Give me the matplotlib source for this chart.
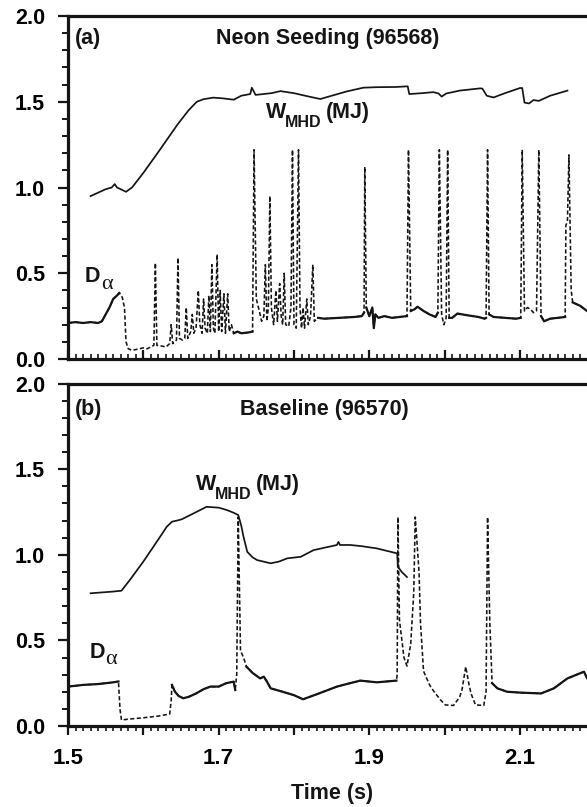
import matplotlib
matplotlib.use("Agg")
import matplotlib.pyplot as plt
from matplotlib.ticker import MultipleLocator, FixedLocator, FixedFormatter
import numpy as np

W, H = 587, 807
plt.rcParams['font.family'] = ['Liberation Sans', 'DejaVu Sans']
plt.rcParams['font.weight'] = 'bold'

# ---------------- data: panel (a) Neon seeding 96568 ----------------
wa_t = [1.530, 1.540, 1.550, 1.558, 1.562, 1.565, 1.570, 1.577, 1.585, 1.600, 1.622, 1.645,
        1.660, 1.671, 1.680, 1.693, 1.705, 1.720, 1.730, 1.742, 1.744, 1.749, 1.770, 1.782,
        1.800, 1.820, 1.835, 1.850, 1.870, 1.892, 1.910, 1.935, 1.951, 1.953, 1.970, 1.985,
        1.992, 1.996, 2.002, 2.020, 2.047, 2.050, 2.056, 2.065, 2.080, 2.100, 2.103, 2.106,
        2.112, 2.118, 2.125, 2.140, 2.163]
wa_v = [0.950, 0.970, 0.990, 1.000, 1.020, 1.000, 0.990, 0.975, 1.000, 1.085, 1.220, 1.365,
        1.450, 1.500, 1.515, 1.524, 1.520, 1.512, 1.535, 1.545, 1.582, 1.540, 1.550, 1.562,
        1.550, 1.530, 1.516, 1.535, 1.560, 1.582, 1.585, 1.586, 1.590, 1.545, 1.550, 1.556,
        1.548, 1.530, 1.548, 1.565, 1.578, 1.577, 1.535, 1.525, 1.550, 1.580, 1.580, 1.495,
        1.490, 1.510, 1.505, 1.535, 1.565]

da_t = [1.500, 1.510, 1.520, 1.530, 1.540, 1.545, 1.550, 1.555, 1.560, 1.565, 1.568, 1.572,
        1.575, 1.577, 1.580, 1.585, 1.590, 1.595, 1.600, 1.605, 1.610, 1.614, 1.616, 1.618,
        1.625, 1.630, 1.635, 1.637, 1.639, 1.644, 1.646, 1.648, 1.652, 1.655, 1.657, 1.659,
        1.663, 1.665, 1.667, 1.670, 1.673, 1.675, 1.678, 1.680, 1.682, 1.685, 1.687, 1.689,
        1.691, 1.693, 1.695, 1.698, 1.700, 1.702, 1.704, 1.707, 1.709, 1.712, 1.714, 1.717,
        1.720, 1.725, 1.730, 1.740, 1.745, 1.747, 1.750, 1.754, 1.757, 1.760, 1.762, 1.764,
        1.766, 1.768, 1.770, 1.773, 1.776, 1.778, 1.781, 1.783, 1.785, 1.787, 1.789, 1.793,
        1.796, 1.798, 1.800, 1.803, 1.806, 1.808, 1.810, 1.812, 1.814, 1.817, 1.819, 1.822,
        1.825, 1.827, 1.832, 1.840, 1.860, 1.880, 1.890, 1.893, 1.894, 1.896, 1.900, 1.904,
        1.906, 1.908, 1.912, 1.920, 1.930, 1.940, 1.950, 1.952, 1.955, 1.960, 1.964, 1.972,
        1.980, 1.988, 1.991, 1.993, 1.996, 1.999, 2.002, 2.004, 2.006, 2.010, 2.017, 2.030,
        2.045, 2.053, 2.055, 2.057, 2.059, 2.065, 2.080, 2.095, 2.101, 2.103, 2.106, 2.110,
        2.114, 2.118, 2.122, 2.125, 2.128, 2.132, 2.140, 2.150, 2.160, 2.161, 2.163, 2.165,
        2.168, 2.170, 2.180, 2.189]
da_v = [0.210, 0.215, 0.210, 0.215, 0.210, 0.220, 0.260, 0.300, 0.350, 0.370, 0.385, 0.360,
        0.300, 0.100, 0.060, 0.050, 0.055, 0.060, 0.065, 0.060, 0.070, 0.080, 0.560, 0.080,
        0.075, 0.070, 0.090, 0.200, 0.090, 0.110, 0.590, 0.120, 0.110, 0.120, 0.300, 0.120,
        0.160, 0.260, 0.150, 0.180, 0.400, 0.200, 0.150, 0.350, 0.180, 0.150, 0.370, 0.160,
        0.550, 0.180, 0.150, 0.610, 0.160, 0.400, 0.160, 0.380, 0.150, 0.380, 0.160, 0.200,
        0.150, 0.160, 0.150, 0.155, 0.160, 1.220, 0.350, 0.280, 0.220, 0.250, 0.550, 0.220,
        0.300, 0.950, 0.300, 0.200, 0.400, 0.220, 0.440, 0.250, 0.200, 0.500, 0.200, 0.190,
        0.300, 1.220, 0.200, 0.180, 1.220, 0.300, 0.180, 0.300, 0.180, 0.350, 0.200, 0.250,
        0.550, 0.220, 0.240, 0.235, 0.240, 0.245, 0.250, 0.270, 1.120, 0.300, 0.250, 0.300,
        0.180, 0.260, 0.240, 0.250, 0.240, 0.245, 0.250, 1.220, 0.280, 0.290, 0.305, 0.280,
        0.260, 0.245, 0.270, 1.220, 0.260, 0.200, 0.240, 1.220, 0.240, 0.240, 0.265, 0.255,
        0.245, 0.235, 0.240, 1.220, 0.260, 0.245, 0.240, 0.235, 0.240, 1.220, 0.280, 0.300,
        0.290, 0.270, 0.280, 1.220, 0.250, 0.220, 0.235, 0.240, 0.245, 0.780, 0.800, 1.190,
        0.400, 0.330, 0.310, 0.280]

# ---------------- data: panel (b) Baseline 96570 ----------------
wb_t = [1.530, 1.545, 1.560, 1.571, 1.582, 1.600, 1.620, 1.631, 1.638, 1.645, 1.651, 1.666,
        1.684, 1.700, 1.711, 1.720, 1.726, 1.730, 1.733, 1.738, 1.745, 1.751, 1.769, 1.780,
        1.791, 1.809, 1.826, 1.857, 1.859, 1.861, 1.875, 1.890, 1.910, 1.937, 1.938, 1.943,
        1.950]
wb_v = [0.775, 0.780, 0.785, 0.790, 0.852, 0.960, 1.090, 1.163, 1.193, 1.200, 1.207, 1.240,
        1.280, 1.275, 1.261, 1.245, 1.232, 1.170, 1.105, 1.017, 0.985, 0.969, 0.950, 0.960,
        0.979, 0.988, 1.027, 1.057, 1.075, 1.057, 1.057, 1.050, 1.037, 1.008, 0.930, 0.900,
        0.870]

db_t = [1.500, 1.520, 1.540, 1.560, 1.567, 1.569, 1.571, 1.580, 1.600, 1.620, 1.635, 1.637,
        1.638, 1.642, 1.647, 1.653, 1.660, 1.670, 1.680, 1.689, 1.700, 1.710, 1.720, 1.722,
        1.724, 1.726, 1.729, 1.733, 1.737, 1.745, 1.755, 1.760, 1.764, 1.769, 1.785, 1.800,
        1.812, 1.830, 1.857, 1.870, 1.888, 1.910, 1.936, 1.937, 1.938, 1.940, 1.946, 1.950,
        1.955, 1.959, 1.961, 1.966, 1.968, 1.972, 1.980, 1.986, 1.995, 2.001, 2.012, 2.020,
        2.023, 2.028, 2.032, 2.035, 2.041, 2.052, 2.055, 2.057, 2.060, 2.063, 2.070, 2.083,
        2.100, 2.128, 2.145, 2.163, 2.185, 2.189]
db_v = [0.230, 0.240, 0.245, 0.255, 0.260, 0.100, 0.035, 0.040, 0.048, 0.058, 0.070, 0.150,
        0.240, 0.200, 0.175, 0.162, 0.170, 0.190, 0.215, 0.230, 0.230, 0.250, 0.259, 0.210,
        0.300, 1.220, 0.440, 0.400, 0.346, 0.310, 0.278, 0.288, 0.260, 0.220, 0.200, 0.180,
        0.156, 0.185, 0.230, 0.245, 0.265, 0.255, 0.265, 0.300, 1.220, 0.620, 0.400, 0.350,
        0.480, 0.780, 1.220, 0.900, 0.600, 0.320, 0.240, 0.200, 0.150, 0.123, 0.120, 0.170,
        0.210, 0.346, 0.250, 0.190, 0.123, 0.120, 0.200, 1.220, 0.600, 0.250, 0.220, 0.200,
        0.195, 0.190, 0.220, 0.278, 0.317, 0.280]

# time ranges where the D-alpha trace looks continuous (style only)
solid_a = [(1.500, 1.568), (1.720, 1.745), (1.830, 1.893), (1.896, 1.950), (1.955, 1.991),
           (2.006, 2.055), (2.059, 2.101), (2.128, 2.160), (2.170, 2.189)]
solid_b = [(1.500, 1.567), (1.638, 1.722), (1.737, 1.936), (2.063, 2.189)]

xticks = [1.5, 1.6, 1.7, 1.8, 1.9, 2.0, 2.1]
xlabels = ['1.5', '', '1.7', '', '1.9', '', '2.1']
yticks = [0.0, 0.5, 1.0, 1.5, 2.0]
ylabels = ['0.0', '0.5', '1.0', '1.5', '2.0']

INK = '#151515'
fig = plt.figure(figsize=(W / 100, H / 100), dpi=100)

def px(x, y):
    return x / W, 1 - y / H

def make_axes(top, bottom, xdir):
    ax = fig.add_axes([68 / W, 1 - bottom / H, (W - 68) / W, (bottom - top) / H])
    ax.set_xlim(1.5, 2.189)
    ax.set_ylim(0, 2.0)
    ax.spines['right'].set_visible(False)
    for s in ['left', 'top', 'bottom']:
        ax.spines[s].set_linewidth(2.3)
        ax.spines[s].set_color(INK)
    ax.yaxis.set_major_locator(FixedLocator(yticks))
    ax.yaxis.set_major_formatter(FixedFormatter(ylabels))
    ax.yaxis.set_minor_locator(MultipleLocator(0.1))
    ax.tick_params(axis='y', which='major', direction='out', length=7.5, width=1.6,
                   labelsize=15.5, pad=9, color=INK)
    ax.tick_params(axis='y', which='minor', direction='out', length=4, width=1.4, color=INK)
    ax.xaxis.set_major_locator(FixedLocator(xticks))
    ax.xaxis.set_minor_locator(MultipleLocator(0.01))
    ax.tick_params(axis='x', which='major', direction=xdir, length=6.5, width=1.6,
                   labelsize=16, pad=9, color=INK)
    ax.tick_params(axis='x', which='minor', direction=xdir, length=3.5, width=1.2, color=INK)
    for lab in ax.get_yticklabels() + ax.get_xticklabels():
        lab.set_fontweight('bold')
    return ax

def draw(ax, wt, wv, dt, dv, solid):
    ax.plot(wt, wv, color=INK, lw=1.25, solid_joinstyle='round')
    ax.plot(dt, dv, color=INK, lw=1.15, linestyle=(0, (2.6, 1.5)))
    dt_arr = np.array(dt)
    dv_arr = np.array(dv)
    for a, b in solid:
        m = (dt_arr >= a) & (dt_arr <= b)
        ax.plot(dt_arr[m], dv_arr[m], color=INK, lw=1.6)

ax1 = make_axes(16, 359, 'in')
ax1.xaxis.set_major_formatter(FixedFormatter([''] * len(xticks)))
draw(ax1, wa_t, wa_v, da_t, da_v, solid_a)

ax2 = make_axes(383.5, 726, 'out')
ax2.xaxis.set_major_formatter(FixedFormatter(xlabels))
draw(ax2, wb_t, wb_v, db_t, db_v, solid_b)
for lab in ax2.get_xticklabels():
    lab.set_fontweight('bold')

def label(x, y, s, size=15.5, **kw):
    fig.text(*px(x, y), s, fontsize=size, fontweight='bold', color=INK, va='baseline', ha='left', **kw)

def alpha(x, y):
    fig.text(*px(x, y), '\u03b1', fontsize=16, family=['Liberation Serif', 'DejaVu Serif'],
             fontweight='normal', color=INK, va='baseline', ha='left')

# panel (a) annotations
label(75, 44, '(a)')
label(216, 44, 'Neon Seeding (96568)')
label(266, 118, 'W')
label(285, 127, 'MHD', size=11.5)
label(326, 118, '(MJ)')
label(85, 282, 'D')
alpha(101, 289)

# panel (b) annotations
label(75, 415, '(b)')
label(240, 415, 'Baseline (96570)')
label(196, 490, 'W')
label(215, 499, 'MHD', size=11.5)
label(256, 490, '(MJ)')
label(90, 658, 'D')
alpha(105, 664)

fig.text(*px(332, 799), 'Time (s)', fontsize=15.5, fontweight='bold', color=INK, va='baseline', ha='center')

fig.savefig('out.png', dpi=100)
